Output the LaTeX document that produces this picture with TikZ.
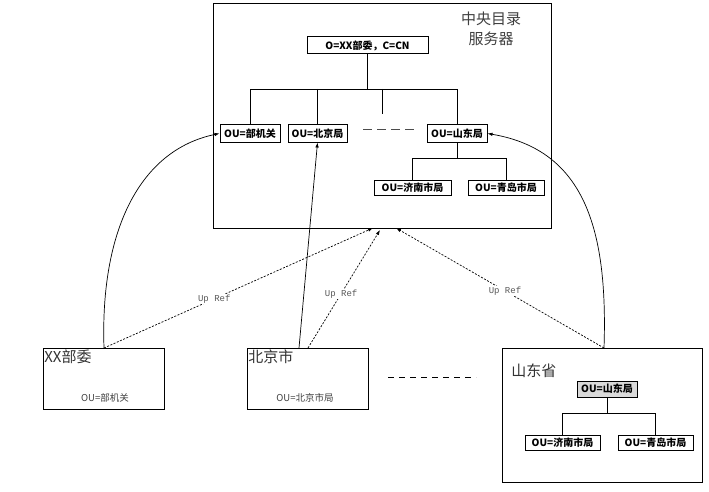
\documentclass[tikz,border=0pt]{standalone}
\usepackage{fontspec}
\newfontfamily\cjk{Noto Sans CJK SC}
\newfontfamily\monof{Liberation Mono}
\usetikzlibrary{arrows.meta}
\begin{document}
\begin{tikzpicture}[x=1pt,y=-1pt,
  line width=0.7pt,
  oubox/.style={draw, line width=1pt, inner sep=0pt, minimum height=17pt,
    font=\cjk\bfseries\fontsize{10}{10}\selectfont},
  subbox/.style={oubox, minimum height=15pt},
  frame/.style={draw, line width=0.8pt, inner sep=0pt, anchor=north west},
  bigtitle/.style={font=\cjk\fontsize{15}{20}\selectfont, text=black!75, inner sep=1pt},
  small/.style={font=\cjk\fontsize{9.5}{9.5}\selectfont, text=black!75, inner sep=0pt},
  upref/.style={fill=white, inner sep=1pt, font=\monof\fontsize{9}{9}\selectfont, text=black!65},
  refline/.style={dash pattern=on 2pt off 1.5pt, -{Latex[length=5pt,width=3.5pt]}},
  solidref/.style={-{Latex[length=5pt,width=3.5pt]}},
  ellipsis/.style={line width=0.9pt, black!70, dash pattern=on 9pt off 5pt}
]
\useasboundingbox (0,0) rectangle (709,492);
\fill[white] (0,0) rectangle (709,492);

% central directory server
\node[frame, minimum width=338pt, minimum height=225pt] (central) at (213,3) {};
\node[bigtitle, align=center] (ttl) at (491,29) {中央目录\\服务器};

\node[oubox, minimum width=121pt] (root) at (367.5,45.5) {O=XX部委，C=CN};
\node[oubox, minimum width=60pt] (n1) at (250,133.5) {OU=部机关};
\node[oubox, minimum width=59pt] (n2) at (317.5,133.5) {OU=北京局};
\node[oubox, minimum width=60pt] (n3) at (457,133.5) {OU=山东局};
\node[subbox, minimum width=77pt] (n4) at (412.5,187.5) {OU=济南市局};
\node[subbox, minimum width=76pt] (n5) at (506,187.5) {OU=青岛市局};

\coordinate (busy) at (0,89);
\coordinate (subbusy) at (0,158);
\coordinate (stubtop) at (382,89);
\coordinate (stubend) at (382,114);
\draw (root.south) -- (root.south |- busy);
\draw (n1.north) |- (n3.north |- busy) -- (n3.north);
\draw (n2.north |- busy) -- (n2.north);
\draw (stubtop) -- (stubend);
\coordinate (dotsA) at (363,129);
\coordinate (dotsB) at (415,129);
\draw[ellipsis] (dotsA) -- (dotsB);
\draw (n3.south) -- (n3.south |- subbusy);
\draw (n4.north) |- (n5.north |- subbusy) -- (n5.north);

% bottom boxes
\node[frame, minimum width=121pt, minimum height=61pt] (b1) at (43,348) {};
\node[frame, minimum width=121pt, minimum height=61pt] (b2) at (247,348) {};
\node[frame, minimum width=200pt, minimum height=134pt] (b3) at (502,348) {};

\node[font=\cjk\fontsize{15}{15}\selectfont, text=black!80, anchor=north west, inner sep=1pt] (b1t) at (b1.north west) {XX部委};
\node[font=\cjk\fontsize{15}{15}\selectfont, text=black!80, anchor=north west, inner sep=1pt] (b2t) at (b2.north west) {北京市};
\node[font=\cjk\fontsize{15}{15}\selectfont, text=black!80, anchor=north west, inner sep=0pt] (b3t) at (511,363) {山东省};
\node[small] (b1ou) at (105,398) {OU=部机关};
\node[small] (b2ou) at (305,398) {OU=北京市局};

\node[oubox, minimum width=60pt, minimum height=16pt, fill=black!15] (s1) at (607,389) {OU=山东局};
\node[subbox, minimum width=75pt] (s2) at (562.5,442.5) {OU=济南市局};
\node[subbox, minimum width=75pt] (s3) at (655.5,442.5) {OU=青岛市局};
\coordinate (sbusy) at (0,413);
\draw (s1.south) -- (s1.south |- sbusy);
\draw (s2.north) |- (s3.north |- sbusy) -- (s3.north);

\coordinate (mdA) at (388,377);
\coordinate (mdB) at (476,377);
\draw[line width=0.8pt, dash pattern=on 6pt off 5pt] (mdA) -- (mdB);

% connectors
\coordinate (b1s) at (104,348);
\coordinate (b2s) at (299,348);
\coordinate (b2d) at (308,348);
\coordinate (b3s) at (604,348);
\coordinate (c1) at (373,228);
\coordinate (c2) at (380,230);
\coordinate (c3) at (396,228);

\draw[solidref] (b1s) .. controls (100,230) and (140,150) .. (n1.west);
\draw[solidref] (b2s) -- (n2.south);
\draw[solidref] (b3s) .. controls (608,230) and (585,150) .. (n3.east);

\draw[refline] (b1s) -- node[upref, pos=0.41] {Up Ref} (c1);
\draw[refline] (b2d) -- node[upref, pos=0.46] {Up Ref} (c2);
\draw[refline] (b3s) -- node[upref, pos=0.476] {Up Ref} (c3);
\end{tikzpicture}
\end{document}
